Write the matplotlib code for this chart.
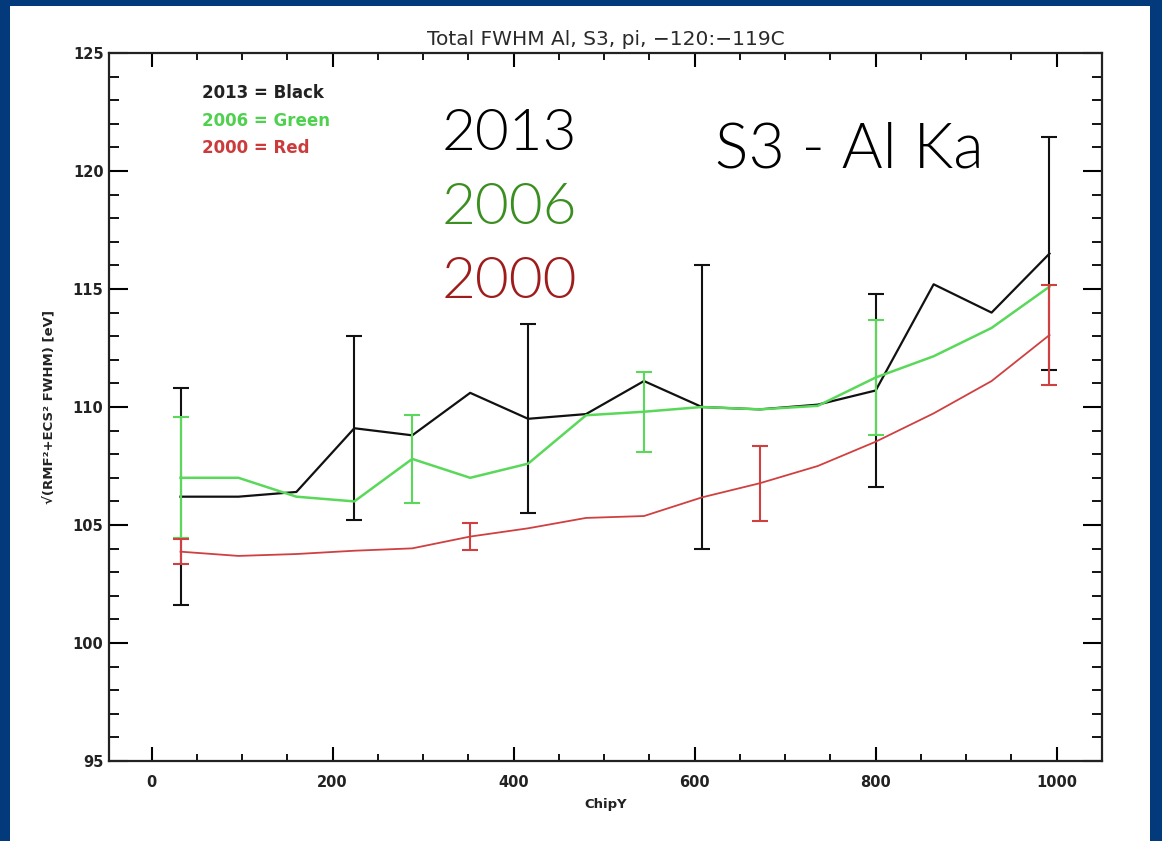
import matplotlib
matplotlib.use("Agg")
import matplotlib.pyplot as plt
from matplotlib.ticker import MultipleLocator
from matplotlib.patches import Rectangle
import numpy as np

# ---- data ----
chipy = [32, 96, 160, 224, 288, 352, 416, 480, 544, 608, 672, 736, 800, 864, 928, 992]

fwhm_2013 = [106.2, 106.2, 106.4, 109.1, 108.8, 110.6, 109.5, 109.7,
             111.1, 110.0, 109.9, 110.1, 110.7, 115.2, 114.0, 116.5]
err_idx_2013 = [0, 3, 6, 9, 12, 15]
err_2013 = [4.6, 3.9, 4.0, 6.0, 4.1, 4.95]

fwhm_2006 = [107.0, 107.0, 106.2, 106.0, 107.8, 107.0, 107.6, 109.65,
             109.8, 110.0, 109.9, 110.05, 111.25, 112.15, 113.35, 115.1]
err_idx_2006 = [0, 4, 8, 12]
err_2006 = [2.57, 1.85, 1.7, 2.45]

fwhm_2000 = [103.87, 103.69, 103.77, 103.91, 104.01, 104.51, 104.86, 105.3,
             105.38, 106.17, 106.77, 107.5, 108.53, 109.73, 111.1, 113.05]
err_idx_2000 = [0, 5, 10, 15]
err_2000 = [0.53, 0.58, 1.59, 2.13]

legend_lines = ["2013 = Black", "2006 = Green", "2000 = Red"]
big_labels = ["2013", "2006", "2000"]

# ---- figure ----
W, H = 1162, 841
fig = plt.figure(figsize=(W / 100, H / 100), dpi=100)
fig.patch.set_facecolor("#023a7c")
bg = Rectangle((10 / W, 0), (1150 - 10) / W, (H - 6) / H,
               transform=fig.transFigure, facecolor="white",
               edgecolor="none", zorder=-10)
fig.add_artist(bg)

ax = fig.add_axes([109 / W, 1 - 761 / H, (1102 - 109) / W, (761 - 53) / H])
ax.set_zorder(1)
ax.set_facecolor("white")

c_black = "#111111"
c_green = "#5ad85a"
c_red = "#d04040"

series = [
    (fwhm_2013, err_idx_2013, err_2013, c_black, 1.6),
    (fwhm_2006, err_idx_2006, err_2006, c_green, 1.8),
    (fwhm_2000, err_idx_2000, err_2000, c_red, 1.3),
]
for vals, eidx, errs, col, lw in series:
    ax.plot(chipy, vals, color=col, lw=lw, zorder=3)
    ex = [chipy[i] for i in eidx]
    ey = [vals[i] for i in eidx]
    ax.errorbar(ex, ey, yerr=errs, fmt="none", ecolor=col, elinewidth=1.5,
                capsize=6, capthick=1.5, zorder=3)

ax.set_xlim(-47, 1050)
ax.set_ylim(95, 125)
ax.xaxis.set_major_locator(MultipleLocator(200))
ax.xaxis.set_minor_locator(MultipleLocator(50))
ax.yaxis.set_major_locator(MultipleLocator(5))
ax.yaxis.set_minor_locator(MultipleLocator(1))

ax.tick_params(axis="x", which="major", direction="in", length=10, width=1.5,
               top=True, pad=10, labelsize=10.5)
ax.tick_params(axis="x", which="minor", direction="in", length=5, width=1.3, top=True)
ax.tick_params(axis="y", which="major", direction="in", length=14, width=1.5,
               right=True, pad=4, labelsize=10.5)
ax.tick_params(axis="y", which="minor", direction="in", length=7, width=1.3, right=True)
for lab in ax.get_xticklabels() + ax.get_yticklabels():
    lab.set_fontweight("bold")
    lab.set_color("#222222")
for sp in ax.spines.values():
    sp.set_linewidth(1.6)
    sp.set_color("#222222")

ax.set_title("Total FWHM Al, S3, pi, \u2212120:\u2212119C", fontsize=14.5,
             color="#2a2a2a", pad=6)
ax.set_xlabel("ChipY", fontsize=9.5, color="#222222", labelpad=6,
              fontweight="bold")
ax.set_ylabel("\u221a(RMF\u00b2+ECS\u00b2 FWHM) [eV]", fontsize=9.5,
              color="#222222", labelpad=12, fontweight="bold")

# small in-plot legend text
leg_cols = ["#222222", "#4fd04f", "#cc3b3b"]
for k, (txt, col) in enumerate(zip(legend_lines, leg_cols)):
    fig.text(202 / W, 1 - (93 + 27.5 * k) / H, txt, color=col, fontsize=12,
             fontweight="semibold", va="center", ha="left", zorder=5)

# big overlay labels
big_cols = ["#000000", "#3a8f20", "#a01c1c"]
for k, (txt, col) in enumerate(zip(big_labels, big_cols)):
    fig.text(442 / W, 1 - (150 + 74 * k) / H, txt, color=col, fontsize=42,
             family=["Lato", "DejaVu Sans"], fontweight=300,
             va="baseline", ha="left", zorder=5)
fig.text(715 / W, 1 - 167 / H, "S3 - Al Ka", color="#000000", fontsize=45,
         family=["Lato", "DejaVu Sans"], fontweight=300,
         va="baseline", ha="left", zorder=5)

fig.savefig("out.png", dpi=100, facecolor=fig.get_facecolor())
